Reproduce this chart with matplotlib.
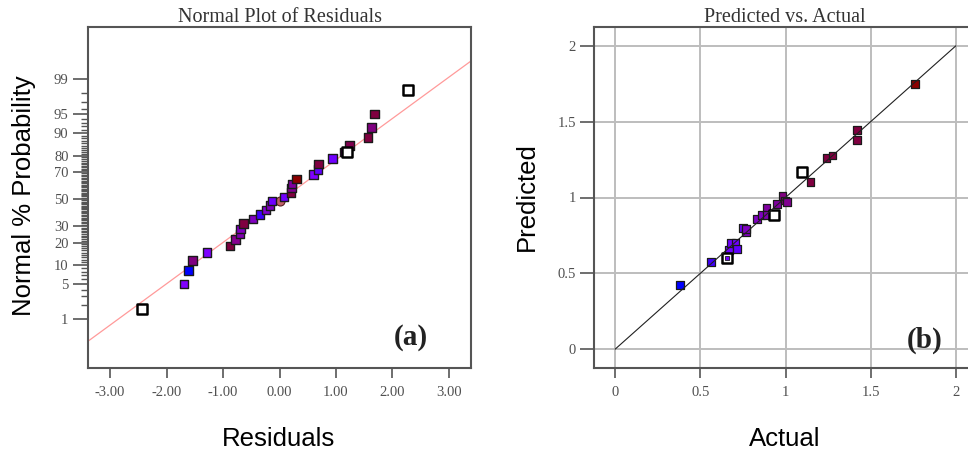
import numpy as np
import matplotlib
matplotlib.use("Agg")
import matplotlib.pyplot as plt
from statistics import NormalDist

# ---------------- data ----------------
# (a) Normal plot of residuals
a_resid = [-2.43, -1.69, -1.61, -1.54, -1.28, -0.88, -0.78, -0.70, -0.69, -0.64,
           -0.47, -0.34, -0.24, -0.17, -0.13, 0.08, 0.20, 0.21, 0.22, 0.30,
           0.60, 0.68, 0.69, 0.94, 1.20, 1.24, 1.57, 1.63, 1.68, 2.28]
a_prob = [1.7, 5.0, 8.3, 11.7, 15.0, 18.3, 21.7, 25.0, 28.3, 31.7,
          35.0, 38.3, 41.7, 45.0, 48.3, 51.7, 55.0, 58.3, 61.7, 65.0,
          68.3, 71.7, 75.0, 78.3, 81.7, 85.0, 88.3, 91.7, 95.0, 98.3]
a_colors = ["none", "#8000ff", "#0000ff", "#800080", "#8000ff", "#800040", "#880090", "#8000b0", "#8000c0", "#800040",
            "#8000c0", "#4000ff", "#8000d0", "#8000c0", "#7000ff", "#7000ff", "#800040", "#800090", "#8000a0", "#8b0000",
            "#8000ff", "#6000ff", "#800040", "#7000ff", "none", "#800050", "#800040", "#800080", "#800040", "none"]
a_extra_resid = [1.14]
a_extra_prob = [81.7]
a_extra_colors = ["#800080"]
a_circle_resid = [0.00]
a_circle_prob = [48.8]
a_circle_color = "#c0606a"
a_line_slope = 0.80
a_line_intercept = -0.04
a_yticks = [1, 5, 10, 20, 30, 50, 70, 80, 90, 95, 99]
a_xticks = [-3, -2, -1, 0, 1, 2, 3]

# (b) Predicted vs actual
b_actual = [0.378, 0.561, 0.659, 0.668, 0.682, 0.706, 0.716, 0.751, 0.766, 0.770,
            0.833, 0.859, 0.888, 0.892, 0.931, 0.951, 0.982, 0.995, 1.009,
            1.098, 1.147, 1.241, 1.276, 1.420, 1.420, 1.761]
b_pred = [0.423, 0.575, 0.599, 0.655, 0.700, 0.700, 0.660, 0.800, 0.771, 0.790,
          0.859, 0.885, 0.931, 0.885, 0.885, 0.958, 1.008, 0.980, 0.973,
          1.167, 1.105, 1.259, 1.277, 1.447, 1.380, 1.750]
b_colors = ["#0000ff", "#4000ff", "open_inner", "#7000ff", "#7000ff", "#7000ff", "#6000ff", "#7000ff", "#8000c0", "#8000c0",
            "#8000c0", "#8000c0", "#8000a0", "#8000b0", "none", "#8000a0", "#800080", "#800070", "#800090",
            "none", "#800040", "#800040", "#800040", "#800040", "#800040", "#8b0000"]
b_ticks = [0, 0.5, 1, 1.5, 2]

# ---------------- style ----------------
serif = "Liberation Serif"
sans = "Liberation Sans"
tick_color = "#505050"
spine_color = "#555555"
tick_fs = 10.5
label_fs = 18.5
title_fs = 14.5
panel_fs = 21

fig = plt.figure(figsize=(9.68, 4.5), dpi=100)
AX_H = 341.0

# ---------------- panel (a) ----------------
nd = NormalDist()
fwd = np.vectorize(lambda p: nd.inv_cdf(min(max(p / 100.0, 1e-9), 1 - 1e-9)))
inv = np.vectorize(lambda z: 100.0 * nd.cdf(z))

axa = fig.add_axes([88 / 968, 82 / 450, 383 / 968, AX_H / 450])
axa.set_yscale("function", functions=(fwd, inv))
axa.set_xlim(-3.39, 3.39)
axa.set_ylim(float(inv(-3.27)), float(inv(3.33)))

xl = np.array([-3.39, 3.39])
axa.plot(xl, inv(a_line_slope * xl + a_line_intercept), color="#ff9a9a", lw=0.9, zorder=1)

filled = [i for i, c in enumerate(a_colors) if c != "none"]
opens = [i for i, c in enumerate(a_colors) if c == "none"]
axa.scatter(a_extra_resid, a_extra_prob, marker="s", s=36, c=a_extra_colors,
            edgecolors="#1a1a1a", linewidths=1.0, zorder=2)
axa.scatter(a_circle_resid, a_circle_prob, marker="o", s=42, c=a_circle_color,
            edgecolors="#5a2020", linewidths=0.8, zorder=2)
axa.scatter([a_resid[i] for i in filled], [a_prob[i] for i in filled], marker="s", s=36,
            c=[a_colors[i] for i in filled], edgecolors="#1a1a1a", linewidths=1.0, zorder=3)
axa.scatter([a_resid[i] for i in opens], [a_prob[i] for i in opens], marker="s", s=58,
            facecolors="white", edgecolors="black", linewidths=1.8, zorder=4)

axa.set_yticks(a_yticks)
axa.set_yticklabels([str(t) for t in a_yticks])
axa.set_yticks([p for p in range(1, 100) if p not in a_yticks], minor=True)
axa.yaxis.set_minor_formatter(matplotlib.ticker.NullFormatter())
axa.set_xticks(a_xticks)
axa.set_xticklabels(["%.2f" % t for t in a_xticks])
axa.tick_params(axis="y", which="major", length=11, width=1.2, color=spine_color, pad=3)
axa.tick_params(axis="y", which="minor", length=5, width=1.0, color=spine_color)
axa.tick_params(axis="x", which="major", length=7, width=1.2, color=spine_color, pad=6)
for lab in axa.get_xticklabels() + axa.get_yticklabels():
    lab.set_fontfamily(serif)
    lab.set_fontsize(tick_fs)
    lab.set_color(tick_color)
for sp in axa.spines.values():
    sp.set_color(spine_color)
    sp.set_linewidth(1.5)
axa.set_title("Normal Plot of Residuals", family=serif, fontsize=title_fs, color="#333333", pad=3)
axa.set_xlabel("Residuals", family=sans, fontsize=label_fs)
axa.xaxis.label.set_verticalalignment("center")
axa.xaxis.set_label_coords(0.497, (368 - 439) / AX_H)
axa.set_ylabel("Normal % Probability", family=sans, fontsize=label_fs)
axa.yaxis.label.set_verticalalignment("center")
axa.yaxis.set_label_coords((24 - 88) / 383, (368 - 196) / AX_H)
axa.text(0.843, 0.09, "(a)", transform=axa.transAxes, family=serif, fontsize=panel_fs,
         fontweight="bold", ha="center", va="center", color="#222222")

# ---------------- panel (b) ----------------
axb = fig.add_axes([594 / 968, 82 / 450, 383 / 968, AX_H / 450])
axb.set_xlim(-0.125, 2.125)
axb.set_ylim(-0.125, 2.125)
axb.set_xticks(b_ticks)
axb.set_yticks(b_ticks)
axb.set_xticklabels(["%g" % t for t in b_ticks])
axb.set_yticklabels(["%g" % t for t in b_ticks])
axb.grid(True, color="#bdbdbd", lw=1.4, zorder=0)
axb.set_axisbelow(True)
axb.plot([b_ticks[0], b_ticks[-1]], [b_ticks[0], b_ticks[-1]], color="#202020", lw=0.8, zorder=5)

bf = [i for i, c in enumerate(b_colors) if c not in ("none", "open_inner")]
bo = [i for i, c in enumerate(b_colors) if c in ("none", "open_inner")]
bi = [i for i, c in enumerate(b_colors) if c == "open_inner"]
axb.scatter([b_actual[i] for i in bf], [b_pred[i] for i in bf], marker="s", s=32,
            c=[b_colors[i] for i in bf], edgecolors="#1a1a1a", linewidths=0.9, zorder=3)
axb.scatter([b_actual[i] for i in bo], [b_pred[i] for i in bo], marker="s", s=58,
            facecolors="white", edgecolors="black", linewidths=1.8, zorder=4)
axb.scatter([b_actual[i] for i in bi], [b_pred[i] for i in bi], marker="s", s=12,
            c="#7000ff", edgecolors="#1a1a1a", linewidths=0.6, zorder=4.5)

axb.tick_params(axis="both", which="major", length=10, width=1.2, color=spine_color)
axb.tick_params(axis="x", length=7, pad=6)
axb.tick_params(axis="y", pad=3)
for lab in axb.get_xticklabels() + axb.get_yticklabels():
    lab.set_fontfamily(serif)
    lab.set_fontsize(tick_fs)
    lab.set_color(tick_color)
for sp in axb.spines.values():
    sp.set_color(spine_color)
    sp.set_linewidth(1.5)
axb.set_title("Predicted vs. Actual", family=serif, fontsize=title_fs, color="#333333", pad=3,
              x=(785 - 594) / 383)
axb.set_xlabel("Actual", family=sans, fontsize=label_fs)
axb.xaxis.label.set_verticalalignment("center")
axb.xaxis.set_label_coords((785 - 594) / 383, (368 - 439) / AX_H)
axb.set_ylabel("Predicted", family=sans, fontsize=label_fs)
axb.yaxis.label.set_verticalalignment("center")
axb.yaxis.set_label_coords((527 - 594) / 383, (368 - 197) / AX_H)
axb.text(0.864, 0.082, "(b)", transform=axb.transAxes, family=serif, fontsize=panel_fs,
         fontweight="bold", ha="center", va="center", color="#222222")

fig.savefig("out.png", dpi=100)
